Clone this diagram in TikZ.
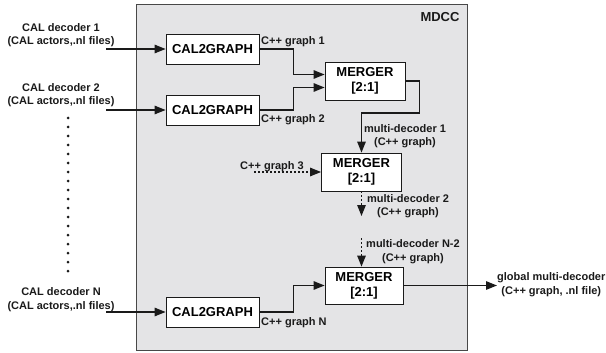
\documentclass[tikz,border=0pt]{standalone}
\usepackage{fontspec}
\setmainfont{Liberation Sans}
\usetikzlibrary{arrows.meta,calc,positioning}
\definecolor{panel}{HTML}{E4E4E6}
\definecolor{ink}{HTML}{1A1A1A}
\tikzset{
  block/.style={draw=ink,line width=0.8pt,fill=white,align=center,inner sep=0pt,
    font=\fontsize{13}{15}\selectfont\bfseries},
  lbl/.style={font=\fontsize{11}{13.5}\selectfont\bfseries,text=ink,align=center,inner sep=0pt},
  flow/.style={draw=ink,line width=1.2pt,-{Triangle[length=11pt,width=8.5pt]}},
  dflow/.style={flow,dash pattern=on 2pt off 2pt}
}

\begin{document}
\begin{tikzpicture}[x=1pt,y=-1pt]
\useasboundingbox (0,0) rectangle (606,353);
% the MDCC frame
\node[draw=ink!80,line width=0.8pt,fill=panel,minimum width=331pt,minimum height=346pt,anchor=north west,inner sep=0pt] (mdcc) at (136,4) {};
\node[lbl,font=\fontsize{13}{15}\selectfont\bfseries] (mdcclbl) at (440,17) {MDCC};

% inputs
\node[lbl] (dec1) at (61,35) {CAL decoder 1\\(CAL actors,.nl files)};
\node[lbl] (dec2) at (61,95) {CAL decoder 2\\(CAL actors,.nl files)};
\node[lbl] (decN) at (61,299.5) {CAL decoder N\\(CAL actors,.nl files)};
\coordinate (in1) at (106,49);
\coordinate (in2) at (106,110);
\coordinate (inN) at (106,312);
\draw[ink,line width=3pt,line cap=round,dash pattern=on 0pt off 9pt] (68,118) -- (68,272);

% blocks
\node[block,minimum width=93pt,minimum height=30pt] (c2g1) at (212.5,49) {CAL2GRAPH};
\node[block,minimum width=93pt,minimum height=30pt] (c2g2) at (212.5,110) {CAL2GRAPH};
\node[block,minimum width=93pt,minimum height=30pt] (c2gN) at (212.5,312) {CAL2GRAPH};
\node[block,minimum width=80pt,minimum height=38pt] (mrg1) at (365,81) {MERGER\\{}[2:1]};
\node[block,minimum width=80pt,minimum height=38pt] (mrg2) at (361.5,172) {MERGER\\{}[2:1]};
\node[block,minimum width=78pt,minimum height=37pt] (mrg3) at (364,285.5) {MERGER\\{}[2:1]};

\draw[flow] (in1) -- (c2g1.west);
\draw[flow] (in2) -- (c2g2.west);
\draw[flow] (inN) -- (c2gN.west);

% graphs into the mergers
\draw[flow] (c2g1.east) -- ++(34,0) |- ([yshift=6.5pt]mrg1.west);
\draw[flow] (c2g2.east) -- ++(34,0) |- ([yshift=-6.5pt]mrg1.west);
\draw[flow] (c2gN.east) -- ++(34,0) |- (mrg3.west);
\node[lbl,anchor=west] (g1) at (261,42) {C++ graph 1};
\node[lbl,anchor=west] (g2) at (261,120) {C++ graph 2};
\node[lbl,anchor=west] (gN) at (261,323) {C++ graph N};

\draw[flow] (mrg1.east) -- ++(14,0) -- ++(0,32) -| (mrg2.north);
\node[lbl] (md1) at (405,136) {multi-decoder 1\\(C++ graph)};

\coordinate (g3in) at (254,172);
\draw[dflow] (g3in) -- (mrg2.west);
\node[lbl] (g3) at (272,167) {C++ graph 3};

\coordinate (md2end) at (361.5,216);
\draw[dflow] (mrg2.south) -- (md2end);
\node[lbl] (md2) at (408,206) {multi-decoder 2\\(C++ graph)};

\coordinate (mdN2in) at (361.5,238);
\draw[dflow] (mdN2in) -- (mdN2in |- mrg3.north);
\node[lbl] (mdN2) at (413,251.5) {multi-decoder N-2\\(C++ graph)};

% global output
\coordinate (out) at (497,285.5);
\draw[flow] (mrg3.east) -- (out);
\node[lbl,anchor=west] (glob) at (497,284.5) {global multi-decoder\\(C++ graph, .nl file)};
\end{tikzpicture}
\end{document}
